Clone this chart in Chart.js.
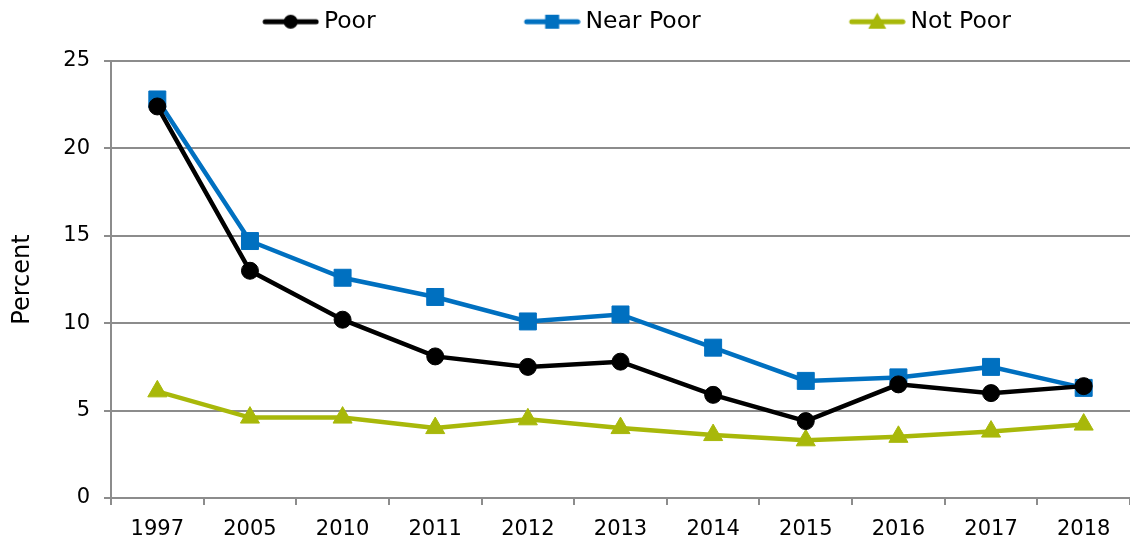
<!DOCTYPE html>
<html>
<head>
<meta charset="utf-8">
<script src="https://cdn.jsdelivr.net/npm/chart.js@4"></script>
<style>
  html, body { margin: 0; padding: 0; background: #fff; }
  #wrap { width: 1130px; height: 544px; }
</style>
</head>
<body>
<div id="wrap"><canvas id="myChart"></canvas></div>
<script>
const years = ['1997', '2005', '2010', '2011', '2012', '2013', '2014', '2015', '2016', '2017', '2018'];
const poor = [22.4, 13.0, 10.2, 8.1, 7.5, 7.8, 5.9, 4.4, 6.5, 6.0, 6.4];
const nearPoor = [22.8, 14.7, 12.6, 11.5, 10.1, 10.5, 8.6, 6.7, 6.9, 7.5, 6.3];
const notPoor = [6.1, 4.6, 4.6, 4.0, 4.5, 4.0, 3.6, 3.3, 3.5, 3.8, 4.2];
const yTicks = [0, 5, 10, 15, 20, 25];

const black = '#000000';
const blue = '#0070c0';
const olive = '#a8b80a';
const gridGray = '#8c8c8c';

const boxW = 188;   // legend box width (includes blank space used as item spacing)

// legend swatch: line with marker in the last 57px, blank on the left
function swatch(color, shape) {
  const c = document.createElement('canvas');
  c.width = boxW + 14;
  c.height = 24;
  const g = c.getContext('2d');
  const x1 = c.width, x0 = x1 - 57, cx = (x0 + x1) / 2, cy = 12;
  g.strokeStyle = color;
  g.fillStyle = color;
  g.lineWidth = 5;
  g.lineCap = 'round';
  g.beginPath();
  g.moveTo(x0 + 3, cy);
  g.lineTo(x1 - 3, cy);
  g.stroke();
  g.beginPath();
  if (shape === 'circle') {
    g.arc(cx, cy, 7, 0, Math.PI * 2);
  } else if (shape === 'rect') {
    g.rect(cx - 7, cy - 7, 14, 14);
  } else {
    g.moveTo(cx, cy - 9);
    g.lineTo(cx + 9, cy + 7);
    g.lineTo(cx - 9, cy + 7);
    g.closePath();
  }
  g.fill();
  return c;
}

const swatches = [swatch(black, 'circle'), swatch(blue, 'rect'), swatch(olive, 'triangle')];

// keep the legend text near the top but reserve 61px for it
const legendHeight = {
  id: 'legendHeight',
  beforeUpdate(chart) {
    const lg = chart.legend;
    if (lg && !lg._fixed) {
      const fit = lg.fit;
      lg.fit = function () { fit.call(this); this.height = 61; };
      lg._fixed = true;
    }
  }
};

const ctx = document.getElementById('myChart');

new Chart(ctx, {
  type: 'line',
  plugins: [legendHeight],
  data: {
    labels: years,
    datasets: [
      {
        label: 'Poor',
        data: poor,
        borderColor: black,
        backgroundColor: black,
        borderWidth: 4.5,
        pointStyle: 'circle',
        pointRadius: 8.5,
        pointBorderWidth: 1
      },
      {
        label: 'Near Poor',
        data: nearPoor,
        borderColor: blue,
        backgroundColor: blue,
        borderWidth: 4.5,
        pointStyle: 'rect',
        pointRadius: 12,
        pointBorderWidth: 1
      },
      {
        label: 'Not Poor',
        data: notPoor,
        borderColor: olive,
        backgroundColor: olive,
        borderWidth: 4.5,
        pointStyle: 'triangle',
        pointRadius: 11,
        pointBorderWidth: 1
      }
    ]
  },
  options: {
    responsive: true,
    maintainAspectRatio: false,
    animation: false,
    layout: { autoPadding: false, padding: { top: 0, right: -5 } },
    plugins: {
      tooltip: { enabled: false },
      legend: {
        position: 'top',
        labels: {
          usePointStyle: true,
          pointStyleWidth: boxW,
          padding: 10,
          color: '#000',
          font: { family: 'DejaVu Sans', size: 23.5 },
          generateLabels: (chart) => {
            const items = Chart.defaults.plugins.legend.labels.generateLabels(chart);
            items.forEach((it, i) => { it.pointStyle = swatches[i]; });
            return items;
          }
        }
      }
    },
    scales: {
      x: {
        offset: true,
        afterFit: (scale) => {
          scale.height = 46;
          scale.paddingLeft = 0;
          scale.paddingRight = 0;
        },
        grid: {
          offset: true,
          drawOnChartArea: false,
          drawTicks: true,
          tickLength: 7,
          color: gridGray,
          lineWidth: 2
        },
        border: { color: gridGray, width: 2 },
        ticks: {
          color: '#000',
          padding: 12,
          maxRotation: 0,
          font: { family: 'DejaVu Sans', size: 21 }
        }
      },
      y: {
        min: 0,
        max: 25,
        afterFit: (scale) => { scale.width = 111; },
        afterBuildTicks: (scale) => { scale.ticks = yTicks.map(v => ({ value: v })); },
        grid: {
          color: gridGray,
          lineWidth: 2,
          tickLength: 7
        },
        border: { color: gridGray, width: 2 },
        ticks: {
          color: '#000',
          padding: 14,
          font: { family: 'DejaVu Sans', size: 21 }
        },
        title: {
          display: true,
          text: 'Percent',
          color: '#000',
          padding: { top: 8, bottom: 0 },
          font: { family: 'DejaVu Sans', size: 24 }
        }
      }
    }
  }
});
</script>
</body>
</html>
